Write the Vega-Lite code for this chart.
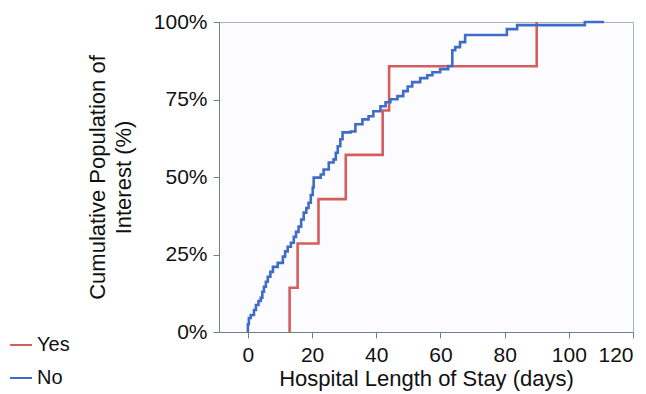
{
  "$schema": "https://vega.github.io/schema/vega-lite/v6.json",
  "autosize": {"type": "none"},
  "padding": {"left": 219, "top": 22, "right": 13, "bottom": 62},
  "width": 414,
  "height": 310,
  "background": "white",
  "config": {
    "font": "Liberation Sans",
    "view": {"stroke": "#a9b4b4", "strokeWidth": 1, "fill": "#fcfcff"},
    "axis": {"domainColor": "#6f8282", "tickColor": "#6f8282", "labelColor": "#111", "titleColor": "#111", "labelFontSize": 21, "titleFontSize": 22, "titleFontWeight": "normal", "tickSize": 6, "grid": false}
  },
  "data": {
    "values": [
      {"group": "Yes", "day": 13, "pct": 0},
      {"group": "Yes", "day": 13, "pct": 14.29},
      {"group": "Yes", "day": 15.5, "pct": 28.57},
      {"group": "Yes", "day": 22, "pct": 42.86},
      {"group": "Yes", "day": 30.5, "pct": 57.14},
      {"group": "Yes", "day": 42, "pct": 71.43},
      {"group": "Yes", "day": 44, "pct": 85.71},
      {"group": "Yes", "day": 90, "pct": 100},
      {"group": "No", "day": 0, "pct": 0},
      {"group": "No", "day": 0, "pct": 2.5},
      {"group": "No", "day": 0.3, "pct": 4.5},
      {"group": "No", "day": 0.9, "pct": 5.5},
      {"group": "No", "day": 1.9, "pct": 7.1},
      {"group": "No", "day": 2.5, "pct": 8.7},
      {"group": "No", "day": 3.3, "pct": 10.0},
      {"group": "No", "day": 4.0, "pct": 11.0},
      {"group": "No", "day": 4.5, "pct": 13.0},
      {"group": "No", "day": 5.0, "pct": 14.6},
      {"group": "No", "day": 5.6, "pct": 16.2},
      {"group": "No", "day": 6.2, "pct": 17.8},
      {"group": "No", "day": 7.0, "pct": 19.4},
      {"group": "No", "day": 7.8, "pct": 21.0},
      {"group": "No", "day": 9.3, "pct": 22.3},
      {"group": "No", "day": 10.9, "pct": 24.3},
      {"group": "No", "day": 11.6, "pct": 26.0},
      {"group": "No", "day": 12.4, "pct": 27.5},
      {"group": "No", "day": 13.4, "pct": 28.8},
      {"group": "No", "day": 14.3, "pct": 30.7},
      {"group": "No", "day": 15.0, "pct": 32.3},
      {"group": "No", "day": 15.8, "pct": 34.0},
      {"group": "No", "day": 16.6, "pct": 36.3},
      {"group": "No", "day": 17.4, "pct": 38.5},
      {"group": "No", "day": 18.2, "pct": 40.0},
      {"group": "No", "day": 18.9, "pct": 41.7},
      {"group": "No", "day": 19.6, "pct": 44.2},
      {"group": "No", "day": 20.2, "pct": 46.6},
      {"group": "No", "day": 20.5, "pct": 49.8},
      {"group": "No", "day": 22.7, "pct": 50.8},
      {"group": "No", "day": 23.6, "pct": 52.4},
      {"group": "No", "day": 25.2, "pct": 54.7},
      {"group": "No", "day": 26.7, "pct": 55.7},
      {"group": "No", "day": 27.4, "pct": 57.8},
      {"group": "No", "day": 28.0, "pct": 59.9},
      {"group": "No", "day": 28.8, "pct": 62.2},
      {"group": "No", "day": 29.5, "pct": 64.4},
      {"group": "No", "day": 32.0, "pct": 64.7},
      {"group": "No", "day": 33.5, "pct": 67.0},
      {"group": "No", "day": 35.7, "pct": 68.6},
      {"group": "No", "day": 37.6, "pct": 69.6},
      {"group": "No", "day": 39.1, "pct": 71.2},
      {"group": "No", "day": 41.3, "pct": 72.8},
      {"group": "No", "day": 42.9, "pct": 74.1},
      {"group": "No", "day": 44.4, "pct": 75.1},
      {"group": "No", "day": 46.6, "pct": 76.1},
      {"group": "No", "day": 48.4, "pct": 77.7},
      {"group": "No", "day": 49.8, "pct": 79.2},
      {"group": "No", "day": 51.2, "pct": 80.6},
      {"group": "No", "day": 53.7, "pct": 81.9},
      {"group": "No", "day": 55.9, "pct": 82.8},
      {"group": "No", "day": 57.5, "pct": 83.8},
      {"group": "No", "day": 59.9, "pct": 84.8},
      {"group": "No", "day": 62.4, "pct": 85.8},
      {"group": "No", "day": 63.7, "pct": 90.9},
      {"group": "No", "day": 64.6, "pct": 91.9},
      {"group": "No", "day": 66.1, "pct": 93.5},
      {"group": "No", "day": 67.7, "pct": 95.8},
      {"group": "No", "day": 80.7, "pct": 97.7},
      {"group": "No", "day": 83.9, "pct": 99.0},
      {"group": "No", "day": 105, "pct": 100},
      {"group": "No", "day": 111, "pct": 100}
    ]
  },
  "mark": {"type": "line", "interpolate": "step-after", "strokeWidth": 2.6},
  "encoding": {
    "x": {
      "field": "day", "type": "quantitative",
      "scale": {"domain": [-9, 120], "nice": false, "zero": false},
      "axis": {"values": [0, 20, 40, 60, 80, 100, 120], "title": "Hospital Length of Stay (days)", "labelPadding": 6, "titlePadding": 3}
    },
    "y": {
      "field": "pct", "type": "quantitative",
      "scale": {"domain": [0, 100], "nice": false},
      "axis": {"values": [0, 25, 50, 75, 100], "labelExpr": "datum.value + '%'", "title": ["Cumulative Population of", "Interest (%)"], "titleLineHeight": 26, "labelPadding": 6, "titlePadding": 18}
    },
    "color": {
      "field": "group", "type": "nominal",
      "scale": {"domain": ["Yes", "No"], "range": ["#d75c5e", "#3f6cc6"]},
      "legend": {"title": null, "orient": "none", "legendX": -210, "legendY": 311, "symbolType": "stroke", "symbolSize": 484, "symbolStrokeWidth": 2, "labelFontSize": 20, "labelColor": "#111", "rowPadding": 11, "labelOffset": 4}
    },
    "order": {"field": "group", "sort": "descending"}
  }
}
